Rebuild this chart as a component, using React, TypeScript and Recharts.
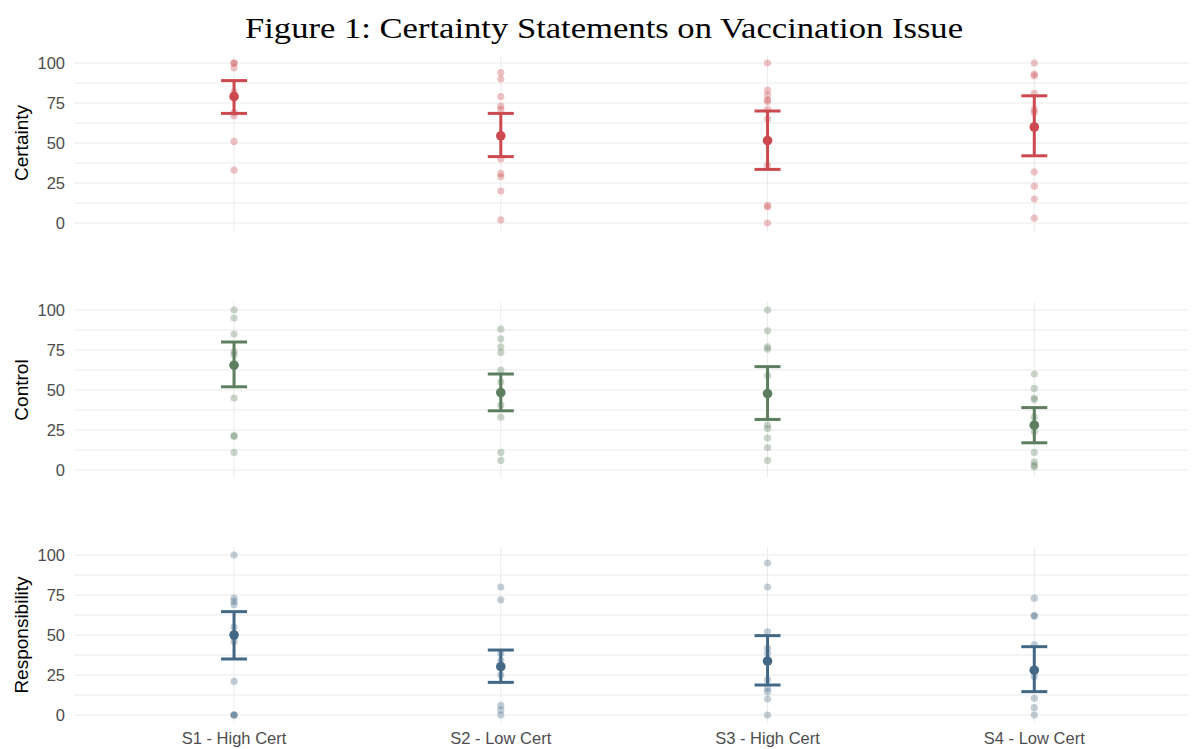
import React from 'react';
import { ScatterChart, Scatter, XAxis, YAxis, CartesianGrid, ErrorBar } from 'recharts';

const categories = ['S1 - High Cert', 'S2 - Low Cert', 'S3 - High Cert', 'S4 - Low Cert'];
const yTicks = [0, 25, 50, 75, 100];
const gridValues = [0, 12.5, 25, 37.5, 50, 62.5, 75, 87.5, 100];

// Certainty
const certaintyPoints = [
  [100, 100, 97, 82, 80, 69, 67, 51, 33],
  [94, 90, 79, 73, 71, 40, 31, 29, 20, 2],
  [100, 83, 80, 77, 76, 71, 65, 36, 11, 10, 0],
  [100, 93, 92, 81, 71, 69, 32, 23, 15, 3],
];
const certaintyMean = [79, 54.5, 51.5, 60];
const certaintyLow = [68.5, 41.5, 33.5, 42];
const certaintyHigh = [89, 68.5, 70, 79.5];

// Control
const controlPoints = [
  [100, 95, 85, 74, 72, 45, 21.5, 21, 11],
  [88, 82, 77, 73.5, 62.5, 55, 40.5, 33, 11, 6],
  [100, 87, 77, 75.5, 59, 28, 26, 20, 14, 6],
  [60, 51, 45, 44, 33, 24, 11, 5, 3, 2],
];
const controlMean = [65.5, 48.4, 47.8, 28];
const controlLow = [52, 37, 31.6, 17];
const controlHigh = [80, 60, 64.6, 39];

// Responsibility
const respPoints = [
  [100, 73, 71, 69, 55, 46, 21, 0, 0, 0],
  [80, 72, 38.5, 34, 25, 6, 3, 0],
  [95, 80, 52, 41.7, 38.6, 22, 16.7, 14.6, 10, 0],
  [73, 62, 62, 44, 24, 10.4, 4.6, 0],
];
const respMean = [50, 30.2, 33.7, 28];
const respLow = [35, 20.4, 18.75, 14.6];
const respHigh = [64.6, 40.6, 49.6, 42.7];

const W = 1192;
const PLOT_H = 176;
const AXIS_W = 74;

function buildPoints(groups: number[][]) {
  return groups.flatMap((vals, i) => vals.map((v) => ({ x: i + 1, y: v })));
}
function buildMeans(mean: number[], low: number[], high: number[]) {
  return mean.map((m, i) => ({ x: i + 1, y: m, err: [m - low[i], high[i] - m] }));
}

const panels = [
  { title: 'Certainty', top: 55, color: '#CC4A4F', points: buildPoints(certaintyPoints), means: buildMeans(certaintyMean, certaintyLow, certaintyHigh) },
  { title: 'Control', top: 302, color: '#5D7F5F', points: buildPoints(controlPoints), means: buildMeans(controlMean, controlLow, controlHigh) },
  { title: 'Responsibility', top: 547, color: '#436886', points: buildPoints(respPoints), means: buildMeans(respMean, respLow, respHigh) },
];

function Panel({ p, showX }: { p: any; showX: boolean }) {
  const height = PLOT_H + (showX ? 30 : 0);
  return (
    <div style={{ position: 'absolute', left: 0, top: p.top, width: W, height }}>
      <ScatterChart width={W} height={height} margin={{ top: 0, right: 3, bottom: 0, left: 0 }}>
        <CartesianGrid stroke="#EBEBEB" strokeWidth={1} horizontalValues={gridValues} verticalValues={[1, 2, 3, 4]} />
        <XAxis
          type="number"
          dataKey="x"
          domain={[0.4, 4.58]}
          ticks={[1, 2, 3, 4]}
          interval={0}
          allowDataOverflow
          hide={!showX}
          height={30}
          axisLine={false}
          tickLine={false}
          tickSize={0}
          tickMargin={9}
          tick={{ fill: '#4D4D4D', fontSize: 16.5 }}
          tickFormatter={(v: number) => categories[v - 1] ?? ''}
        />
        <YAxis
          type="number"
          dataKey="y"
          domain={[-5, 105]}
          ticks={yTicks}
          interval={0}
          allowDataOverflow
          width={AXIS_W}
          axisLine={false}
          tickLine={false}
          tickSize={0}
          tickMargin={9}
          tick={{ fill: '#4D4D4D', fontSize: 16.5 }}
        />
        <Scatter
          data={p.points}
          isAnimationActive={false}
          shape={(s: any) => <circle cx={s.cx} cy={s.cy} r={3.6} fill={p.color} fillOpacity={0.33} />}
        />
        <Scatter
          data={p.means}
          isAnimationActive={false}
          shape={(s: any) => <circle cx={s.cx} cy={s.cy} r={4.8} fill={p.color} />}
        >
          <ErrorBar dataKey="err" direction="y" width={13} stroke={p.color} strokeWidth={3} isAnimationActive={false} />
        </Scatter>
      </ScatterChart>
    </div>
  );
}

export default function App() {
  return (
    <div style={{ position: 'absolute', left: 0, top: 0, width: W, height: 749, background: '#fff', fontFamily: '"Liberation Sans", Arial, sans-serif' }}>
      {panels.map((p, i) => (
        <Panel key={p.title} p={p} showX={i === panels.length - 1} />
      ))}
      <svg width={W} height={749} style={{ position: 'absolute', left: 0, top: 0, pointerEvents: 'none' }}>
        <text x={604} y={38} textAnchor="middle" fontFamily='"Liberation Serif", "DejaVu Serif", serif' fontSize={29} fill="#000" textLength={718} lengthAdjust="spacingAndGlyphs">
          Figure 1: Certainty Statements on Vaccination Issue
        </text>
        {panels.map((p) => (
          <text
            key={p.title}
            x={0}
            y={0}
            transform={`translate(28, ${p.top + PLOT_H / 2}) rotate(-90)`}
            textAnchor="middle"
            fontSize={19}
            fill="#000"
            fontFamily='"Liberation Sans", Arial, sans-serif'
          >
            {p.title}
          </text>
        ))}
      </svg>
    </div>
  );
}
